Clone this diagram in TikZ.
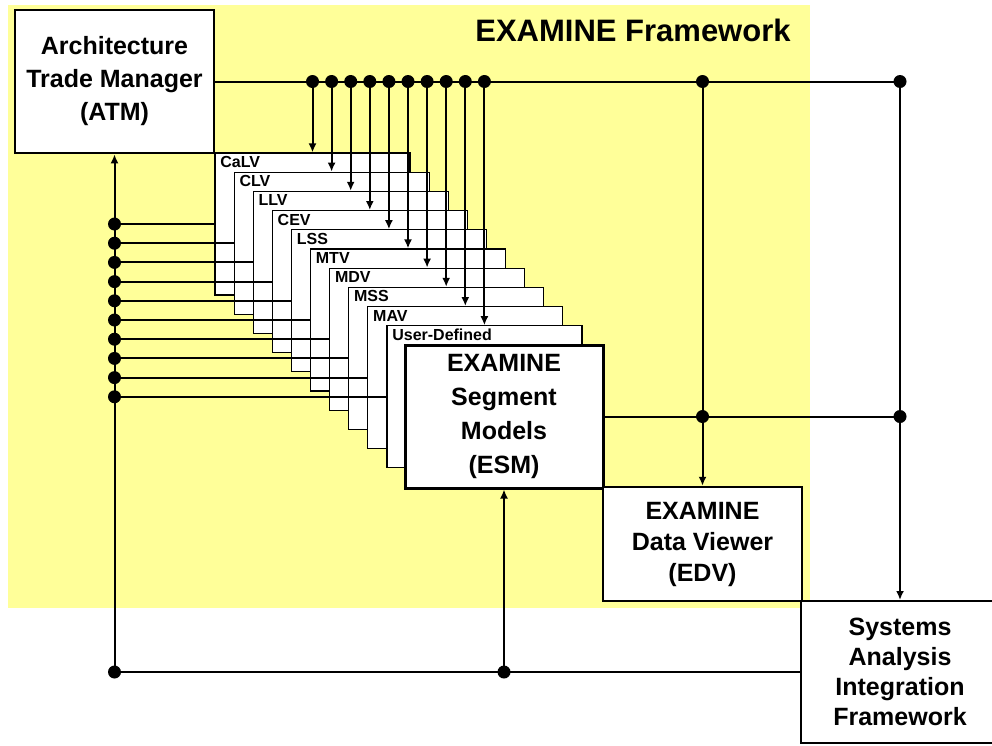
\documentclass[tikz,border=0pt]{standalone}
\usepackage{fontspec}
\setmainfont{Liberation Sans}
\usetikzlibrary{arrows.meta}
\definecolor{framebg}{RGB}{255,255,153}

\begin{document}
\begin{tikzpicture}[x=1pt, y=-1pt, >={Latex[length=9pt,width=8pt]}, line width=2pt,
    box/.style={draw, fill=white, inner sep=0pt, align=center,
      font=\fontsize{25}{33}\selectfont\bfseries},
    page/.style={draw, fill=white, line width=1.2pt, inner sep=0pt,
      minimum width=195pt, minimum height=142pt},
    pagelabel/.style={anchor=north west, inner sep=0pt, xshift=5pt, yshift=-3pt,
      font=\fontsize{16}{18}\selectfont\bfseries},
    dot/.style={circle, fill, inner sep=0pt, minimum size=13pt}]
  \useasboundingbox (0,0) rectangle (992,745);
  \fill[framebg] (8,5) rectangle (810,608);
  \node[font=\fontsize{31}{36}\selectfont\bfseries] (title) at (633,30) {EXAMINE Framework};
  \node[box, line width=2.7pt, minimum width=199pt, minimum height=143pt] (atm)
    at (114.5,81.5) {Architecture\\Trade Manager\\(ATM)};
  % pages
  \foreach \lbl [count=\i from 0] in {CaLV,CLV,LLV,CEV,LSS,MTV,MDV,MSS,MAV,User-Defined}
    \node[page, label={[pagelabel]north west:\lbl}] (pg\i)
      at ({312.5+19.1*\i},{224+19.2*\i}) {};
  \node[box, line width=3pt, minimum width=198pt, minimum height=143pt,
    font=\fontsize{25}{34}\selectfont\bfseries] (esm)
    at (504,416.5) {EXAMINE\\Segment\\Models\\(ESM)};
  \node[box, line width=2.5pt, minimum width=199pt, minimum height=114pt,
    font=\fontsize{25}{31}\selectfont\bfseries] (edv)
    at (702.5,544) {EXAMINE\\Data Viewer\\(EDV)};
  \node[box, minimum width=198pt, minimum height=142pt,
    font=\fontsize{25}{30}\selectfont\bfseries] (saif)
    at (900,672) {Systems\\Analysis\\Integration\\Framework};
  % top bus
  \node[dot] (tedv) at (edv.north |- atm.east) {};
  \node[dot] (tsaif) at (saif.north |- atm.east) {};
  \draw (atm.east) -- (tsaif.center);
  \foreach \i in {0,...,9} {
    \node[dot] (td\i) at (pg\i.north |- atm.east) {};
    \draw[->] (td\i.center) -- (pg\i.north);
  }
  \draw[->] (tedv.center) -- (edv.north);
  \draw[->] (tsaif.center) -- (saif.north);
  % middle bus
  \node[dot] (medv) at (edv.north |- esm.east) {};
  \node[dot] (msaif) at (saif.north |- esm.east) {};
  \draw (esm.east) -- (msaif.center);
  % left and bottom bus
  \node[dot] (bl) at (atm.south |- saif.west) {};
  \node[dot] (besm) at (esm.south |- saif.west) {};
  \draw (bl.center) -- (saif.west);
  \draw[->] (bl.center) -- (atm.south);
  \draw[->] (besm.center) -- (esm.south);
  \foreach \i in {0,...,9} {
    \node[dot] (ld\i) at (atm.south |- pg\i.west) {};
    \draw (ld\i.center) -- (pg\i.west);
  }
\end{tikzpicture}
\end{document}
